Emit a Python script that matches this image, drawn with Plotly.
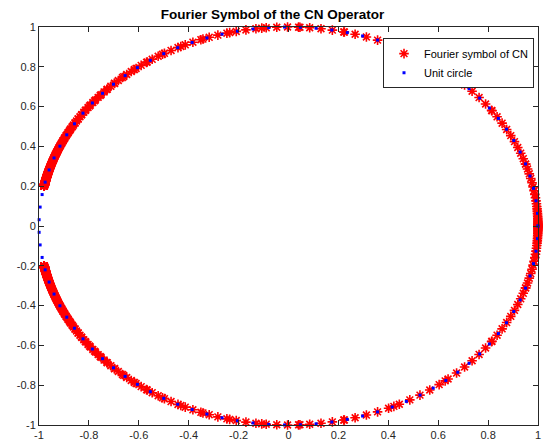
import numpy as np
import plotly.graph_objects as go

# Crank-Nicolson for u_t + u_xxx = 0: amplification factor
# g(xi) = (1 + i*mu*s) / (1 - i*mu*s),  s = sin(xi) * (1 - cos(xi))
mu = 7.6                 # dt / dx^3
n_modes = 600            # number of sampled wavenumbers
n_circle = 100           # points on the reference unit circle

xi = np.linspace(-np.pi, np.pi, n_modes)
s = np.sin(xi) * (1.0 - np.cos(xi))
g = (1 + 1j * mu * s) / (1 - 1j * mu * s)

theta = np.linspace(0, 2 * np.pi, n_circle)
circle = np.exp(1j * theta)

tick_vals = [-1, -0.8, -0.6, -0.4, -0.2, 0, 0.2, 0.4, 0.6, 0.8, 1]
tick_text = ["-1", "-0.8", "-0.6", "-0.4", "-0.2", "0", "0.2", "0.4", "0.6", "0.8", "1"]

FONT = "Liberation Sans, Arial, sans-serif"

fig = go.Figure()
fig.add_trace(go.Scatter(
    x=g.real, y=g.imag, mode="markers", name="Fourier symbol of CN",
    cliponaxis=False,
    marker=dict(symbol="asterisk-open", size=8, color="red",
                line=dict(color="red", width=1.6)),
))
fig.add_trace(go.Scatter(
    x=circle.real, y=circle.imag, mode="markers", name="Unit circle",
    cliponaxis=False,
    marker=dict(symbol="square", size=3, color="blue", line=dict(width=0)),
))

axis_common = dict(
    tickvals=tick_vals, ticktext=tick_text, ticks="inside", ticklen=5,
    tickcolor="#262626", tickwidth=1, showline=True, linecolor="#262626",
    linewidth=1, mirror="ticks", showgrid=False, zeroline=False,
    tickfont=dict(family=FONT, size=11, color="#262626"),
)

fig.update_layout(
    width=545, height=445,
    margin=dict(l=39, r=4, t=27, b=20),
    paper_bgcolor="white", plot_bgcolor="white",
    title=dict(text="<b>Fourier Symbol of the CN Operator</b>",
               x=0.5, xanchor="center", y=1 - 14 / 445, yanchor="middle",
               font=dict(family=FONT, size=13.5, color="black")),
    xaxis=dict(range=[-1, 1], **axis_common),
    yaxis=dict(range=[-1, 1], **axis_common),
    legend=dict(x=0.992, y=0.972, xanchor="right", yanchor="top",
                bgcolor="white", bordercolor="#262626", borderwidth=1,
                font=dict(family=FONT, size=11, color="black"),
                tracegroupgap=0),
    showlegend=True,
)

fig.write_html("out.html")
